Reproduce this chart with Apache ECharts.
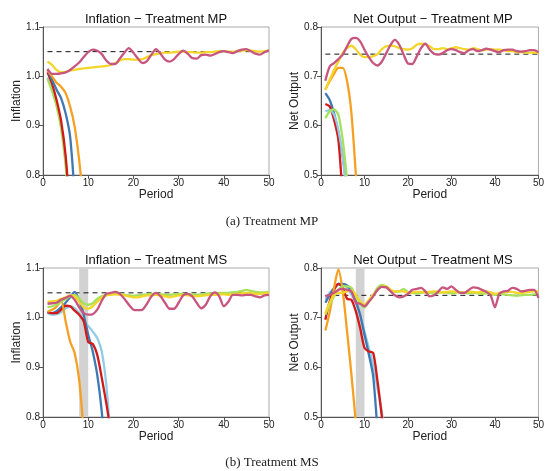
<!DOCTYPE html>
<html><head><meta charset="utf-8">
<script src="https://cdn.jsdelivr.net/npm/echarts@6/dist/echarts.min.js"></script>
<style>html,body{margin:0;padding:0;background:#fff}#c{width:547px;height:471px}</style>
</head><body><div id="c"></div>
<script>
// ---- data ----
const periods = [1,2,3,4,5,6,7,8,9,10,11,12,13,14,15,16,17,18,19,20,21,22,23,24,25,26,27,28,29,30,31,32,33,34,35,36,37,38,39,40,41,42,43,44,45,46,47,48,49,50];
const refInflation = 1.05;
const refOutput = 0.745;
const shockStart = 8, shockEnd = 10;
const yTicksInf = [0.8, 0.9, 1.0, 1.1];
const yTicksOut = [0.5, 0.6, 0.7, 0.8];

// Inflation - Treatment MP
const infMP_pink = [1.015,1.005,1.005,1.006,1.008,1.013,1.020,1.028,1.039,1.049,1.054,1.052,1.045,1.032,1.025,1.025,1.036,1.048,1.057,1.048,1.036,1.027,1.031,1.044,1.055,1.046,1.034,1.030,1.035,1.045,1.052,1.046,1.037,1.036,1.043,1.044,1.042,1.045,1.049,1.051,1.049,1.047,1.051,1.054,1.055,1.051,1.046,1.044,1.049,1.053];
const infMP_yellow = [1.030,1.023,1.013,1.008,1.009,1.012,1.013,1.015,1.016,1.017,1.018,1.019,1.020,1.021,1.023,1.027,1.032,1.035,1.035,1.034,1.034,1.035,1.039,1.043,1.045,1.047,1.048,1.048,1.049,1.050,1.050,1.049,1.049,1.048,1.048,1.049,1.049,1.050,1.051,1.051,1.050,1.050,1.051,1.052,1.053,1.052,1.051,1.050,1.051,1.052];
const infMP_orange = [1.012,1.000,0.987,0.979,0.966,0.939,0.898,0.830,0.740];
const infMP_blue = [1.013,0.993,0.973,0.956,0.925,0.878,0.760];
const infMP_red = [1.008,0.985,0.952,0.910,0.840,0.720];
const infMP_lightblue = [0.998,0.975,0.945,0.900,0.830,0.720];
const infMP_green = [0.995,0.970,0.940,0.895,0.820,0.700];

// Net Output - Treatment MP
const outMP_pink = [0.691,0.720,0.727,0.735,0.744,0.761,0.776,0.778,0.771,0.754,0.739,0.727,0.722,0.730,0.747,0.764,0.774,0.764,0.744,0.726,0.725,0.740,0.757,0.766,0.754,0.746,0.744,0.747,0.753,0.755,0.753,0.749,0.747,0.753,0.755,0.751,0.753,0.756,0.754,0.751,0.749,0.753,0.754,0.754,0.751,0.750,0.751,0.753,0.753,0.749];
const outMP_yellow = [0.673,0.693,0.713,0.730,0.747,0.757,0.762,0.755,0.744,0.739,0.739,0.741,0.745,0.755,0.761,0.762,0.761,0.757,0.755,0.754,0.757,0.764,0.766,0.765,0.761,0.755,0.755,0.757,0.755,0.757,0.759,0.757,0.755,0.754,0.757,0.755,0.753,0.754,0.755,0.754,0.754,0.753,0.751,0.751,0.749,0.749,0.748,0.748,0.748,0.747];
const outMP_orange = [0.673,0.690,0.705,0.717,0.717,0.690,0.625,0.503,0.380];
const outMP_blue = [0.666,0.652,0.625,0.585,0.537,0.470];
const outMP_red = [0.644,0.639,0.612,0.571,0.450];
const outMP_lightblue = [0.629,0.632,0.622,0.591,0.537,0.450];
const outMP_green = [0.615,0.629,0.633,0.622,0.571,0.490];

// Inflation - Treatment MS
const infMS_pink = [1.028,1.029,1.030,1.036,1.040,1.044,1.036,1.021,1.009,1.006,1.007,1.016,1.034,1.048,1.050,1.052,1.048,1.038,1.026,1.016,1.015,1.016,1.028,1.043,1.050,1.043,1.030,1.018,1.018,1.030,1.045,1.048,1.043,1.030,1.019,1.026,1.043,1.051,1.043,1.023,1.032,1.046,1.046,1.045,1.046,1.046,1.043,1.041,1.045,1.046];
const infMS_yellow = [1.032,1.033,1.034,1.038,1.041,1.045,1.043,1.032,1.021,1.018,1.023,1.032,1.040,1.045,1.046,1.047,1.046,1.045,1.043,1.041,1.041,1.043,1.045,1.045,1.046,1.045,1.043,1.041,1.043,1.045,1.046,1.045,1.044,1.043,1.044,1.045,1.046,1.046,1.047,1.047,1.046,1.047,1.048,1.049,1.050,1.049,1.048,1.048,1.049,1.050];
const infMS_green = [1.021,1.023,1.026,1.032,1.037,1.043,1.046,1.039,1.029,1.026,1.029,1.038,1.043,1.046,1.048,1.049,1.048,1.046,1.045,1.044,1.045,1.046,1.047,1.048,1.048,1.047,1.046,1.046,1.047,1.048,1.048,1.047,1.047,1.046,1.047,1.048,1.049,1.049,1.050,1.050,1.050,1.051,1.052,1.054,1.056,1.054,1.052,1.051,1.051,1.052];
const infMS_orange = [1.012,1.016,1.022,1.035,0.993,0.952,0.929,0.875,0.770];
const infMS_blue = [1.011,1.009,1.013,1.021,1.030,1.041,1.052,1.036,1.006,0.966,0.932,0.885,0.811,0.700];
const infMS_lightblue = [1.009,1.006,1.007,1.011,1.019,1.023,1.019,1.009,0.993,0.983,0.972,0.959,0.932,0.865,0.750];
const infMS_red = [1.011,1.009,1.009,1.016,1.024,1.023,1.014,1.006,0.993,0.951,0.947,0.925,0.879,0.828,0.770];

// Net Output - Treatment MS
const outMS_pink = [0.743,0.746,0.750,0.756,0.758,0.756,0.753,0.730,0.728,0.723,0.732,0.743,0.756,0.762,0.761,0.753,0.745,0.741,0.743,0.748,0.756,0.758,0.760,0.753,0.743,0.745,0.753,0.761,0.758,0.763,0.756,0.750,0.750,0.756,0.761,0.760,0.756,0.752,0.745,0.721,0.748,0.753,0.754,0.760,0.758,0.753,0.754,0.756,0.756,0.740];
const outMS_yellow = [0.709,0.730,0.746,0.750,0.750,0.753,0.755,0.746,0.733,0.726,0.736,0.746,0.756,0.763,0.763,0.756,0.753,0.753,0.753,0.750,0.751,0.752,0.752,0.751,0.752,0.753,0.752,0.751,0.752,0.753,0.752,0.751,0.751,0.752,0.752,0.751,0.752,0.753,0.751,0.748,0.750,0.751,0.752,0.752,0.750,0.750,0.751,0.752,0.753,0.753];
const outMS_green = [0.706,0.726,0.743,0.756,0.763,0.763,0.760,0.743,0.728,0.721,0.733,0.746,0.760,0.766,0.763,0.756,0.752,0.753,0.758,0.751,0.750,0.749,0.750,0.751,0.750,0.749,0.750,0.751,0.750,0.749,0.750,0.751,0.750,0.749,0.750,0.749,0.748,0.749,0.748,0.746,0.748,0.747,0.746,0.745,0.744,0.745,0.746,0.746,0.747,0.747];
const outMS_orange = [0.674,0.711,0.760,0.797,0.753,0.672,0.585,0.490,0.390];
const outMS_blue = [0.730,0.746,0.760,0.768,0.768,0.765,0.753,0.733,0.706,0.666,0.626,0.582,0.470];
const outMS_lightblue = [0.736,0.750,0.758,0.766,0.768,0.760,0.746,0.730,0.706,0.672,0.639,0.605,0.558,0.510,0.430];
const outMS_red = [0.696,0.733,0.756,0.768,0.760,0.738,0.736,0.713,0.679,0.639,0.632,0.629,0.572,0.500,0.420];

// ---- styling ----
const COL = {pink:'#c8557f', yellow:'#f4d52a', orange:'#f5a023', blue:'#3f79b4', lightblue:'#92cbe6', green:'#a6e05c', red:'#d21a1a'};
const FONT = 'Liberation Sans, Arial, sans-serif';

const grids = [
  {left:43, top:27, width:226, height:148},
  {left:321, top:27, width:224, height:148},
  {left:43, top:268, width:226, height:149},
  {left:321, top:268, width:224, height:149}
];

const panels = [
  {title:'Inflation \u2212 Treatment MP', yname:'Inflation', ticks:yTicksInf, ref:refInflation, shock:false,
   s:{lightblue:infMP_lightblue, green:infMP_green, red:infMP_red, blue:infMP_blue, orange:infMP_orange, yellow:infMP_yellow, pink:infMP_pink}},
  {title:'Net Output \u2212 Treatment MP', yname:'Net Output', ticks:yTicksOut, ref:refOutput, shock:false,
   s:{blue:outMP_blue, red:outMP_red, lightblue:outMP_lightblue, green:outMP_green, orange:outMP_orange, yellow:outMP_yellow, pink:outMP_pink}},
  {title:'Inflation \u2212 Treatment MS', yname:'Inflation', ticks:yTicksInf, ref:refInflation, shock:true,
   s:{lightblue:infMS_lightblue, blue:infMS_blue, red:infMS_red, orange:infMS_orange, green:infMS_green, yellow:infMS_yellow, pink:infMS_pink}},
  {title:'Net Output \u2212 Treatment MS', yname:'Net Output', ticks:yTicksOut, ref:refOutput, shock:true,
   s:{lightblue:outMS_lightblue, blue:outMS_blue, red:outMS_red, orange:outMS_orange, green:outMS_green, yellow:outMS_yellow, pink:outMS_pink}}
];

const xAxes = [], yAxes = [], series = [], graphics = [];
panels.forEach((p, i) => {
  const g = grids[i];
  xAxes.push({type:'value', gridIndex:i, min:0, max:50, interval:10,
    name:'Period', nameLocation:'middle', nameGap:14,
    nameTextStyle:{fontFamily:FONT, fontSize:12, color:'#222'},
    axisLine:{show:true, onZero:false, lineStyle:{color:'#555', width:1}},
    axisTick:{show:true, length:4, lineStyle:{color:'#555'}},
    axisLabel:{fontFamily:FONT, fontSize:10, color:'#222', margin:3},
    splitLine:{show:false}});
  const tk = p.ticks;
  yAxes.push({type:'value', gridIndex:i, min:tk[0], max:tk[tk.length-1], interval:0.1,
    name:p.yname, nameLocation:'middle', nameGap:20, nameRotate:90,
    nameTextStyle:{fontFamily:FONT, fontSize:12, color:'#222'},
    axisLine:{show:true, onZero:false, lineStyle:{color:'#555', width:1}},
    axisTick:{show:true, length:4, lineStyle:{color:'#555'}},
    axisLabel:{fontFamily:FONT, fontSize:10, color:'#222', margin:3, formatter:v => v.toFixed(1)},
    splitLine:{show:false}});
  const refSeries = {type:'line', xAxisIndex:i, yAxisIndex:i, symbol:'none', silent:true, z:3,
    data:[[periods[0], p.ref], [periods[periods.length-1], p.ref]],
    lineStyle:{color:'#111', width:1, type:[5,4]}};
  series.push(refSeries);
  if (p.shock) {
    series.push({type:'line', xAxisIndex:i, yAxisIndex:i, data:[], silent:true, z:1,
      markArea:{silent:true, itemStyle:{color:'#d2d2d2'}, data:[[{xAxis:shockStart},{xAxis:shockEnd}]]}});
  }
  Object.keys(p.s).forEach((k, j) => {
    const vals = p.s[k];
    series.push({type:'line', xAxisIndex:i, yAxisIndex:i, symbol:'none', smooth:0.25, z:4+j, clip:true,
      data: vals.map((v, idx) => [periods[idx], v]),
      lineStyle:{color:COL[k], width:2.3}});
  });
  graphics.push({type:'text', x:g.left + g.width/2, y:g.top - 8,
    style:{text:p.title, font:'13px ' + FONT, fill:'#111', textAlign:'center', textVerticalAlign:'middle'}});
});
graphics.push({type:'text', x:272, y:222, style:{text:'(a) Treatment MP', font:'13px "Liberation Serif", "DejaVu Serif", serif', fill:'#222', textAlign:'center', textVerticalAlign:'middle'}});
graphics.push({type:'text', x:272, y:463, style:{text:'(b) Treatment MS', font:'13px "Liberation Serif", "DejaVu Serif", serif', fill:'#222', textAlign:'center', textVerticalAlign:'middle'}});

const gridOpts = grids.map(g => Object.assign({show:true, borderColor:'#aaa', borderWidth:1, backgroundColor:'transparent'}, g));

const chart = echarts.init(document.getElementById('c'), null, {renderer:'canvas'});
chart.setOption({
  animation:false,
  backgroundColor:'#fff',
  grid:gridOpts,
  xAxis:xAxes,
  yAxis:yAxes,
  series:series,
  graphic:graphics
});
</script>
</body></html>
